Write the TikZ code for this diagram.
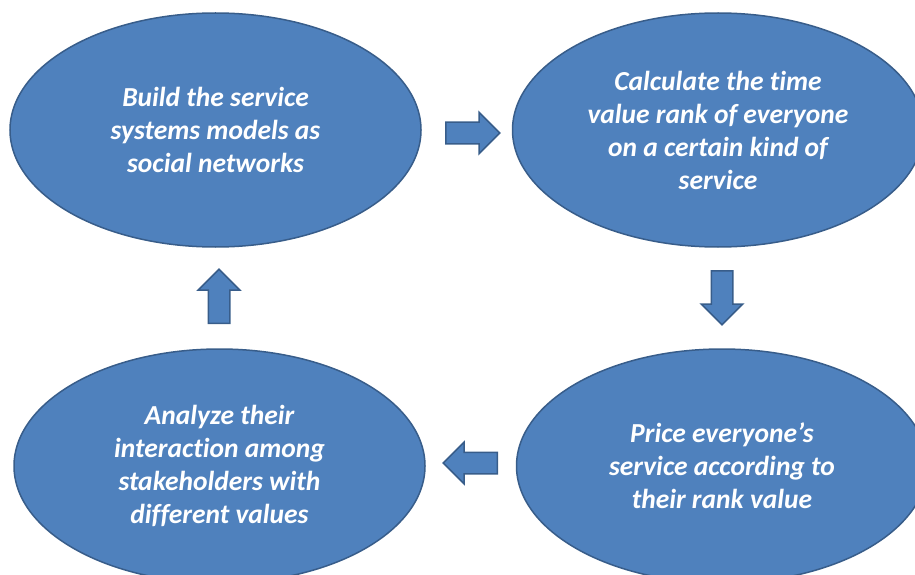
\documentclass[tikz,border=0pt]{standalone}
\usepackage{fontspec}
\setmainfont{Carlito}[Ligatures=NoCommon]
\usepackage{xcolor}
\usepackage{tikz}
\usetikzlibrary{shapes.geometric,shapes.arrows}

\definecolor{stagefill}{HTML}{4F81BD}
\definecolor{stageline}{HTML}{385D8A}

\tikzset{
  stage/.style={ellipse, draw=stageline, fill=stagefill, line width=1.5pt,
    minimum width=411pt, minimum height=234pt, inner sep=0pt,
    text=white, align=center,
    font=\fontsize{27.5pt}{33pt}\selectfont\bfseries\itshape},
  flowarrow/.style={single arrow, draw=stageline, fill=stagefill, line width=1.5pt,
    inner xsep=0pt, inner ysep=10pt, minimum height=54pt, minimum width=40pt,
    single arrow head extend=10pt, single arrow tip angle=90,
    single arrow head indent=0pt, anchor=tail}
}

\begin{document}
\begin{tikzpicture}[x=1pt,y=-1pt]
    \useasboundingbox (0,0) rectangle (915,575);
    		\coordinate (TL) at (215.5,130);
    		\coordinate (TR) at (718,130);
    		\coordinate (BL) at (219.5,466);
    		\coordinate (BR) at (722,466);
    		\node[stage] (build) at (TL) {Build the service\\systems models as\\social networks};
    		\node[stage] (calc) at (TR) {Calculate the time\\value rank of everyone\\on a certain kind of\\service};
    		\node[stage] (price) at (BR) {Price everyone’s\\service according to\\their rank value};
    		\node[stage] (analyze) at (BL) {Analyze their\\interaction among\\stakeholders with\\different values};
    		
    		\node[flowarrow] (toCalc) at (445,133) {};
    		\node[flowarrow, rotate=-90] (toPrice) at (722,270) {};
    		\node[flowarrow, rotate=180] (toAnalyze) at (498,463) {};
    	\node[flowarrow, rotate=90] (toBuild) at (219,324) {};
    		
    \end{tikzpicture}
\end{document}
